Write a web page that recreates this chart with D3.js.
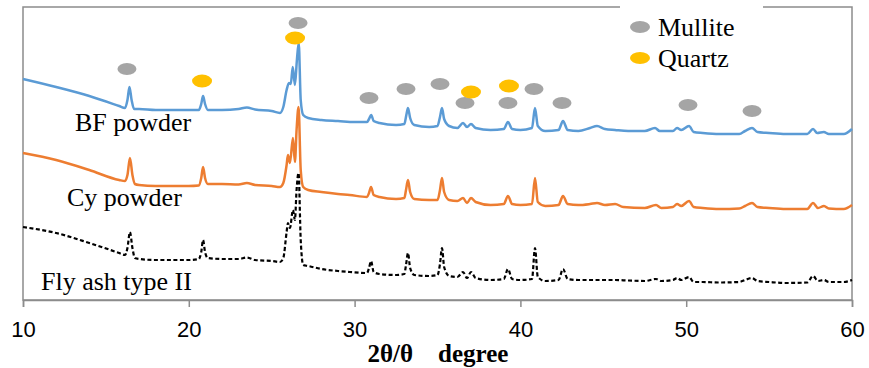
<!DOCTYPE html>
<html>
<head>
<meta charset="utf-8">
<script src="https://cdn.jsdelivr.net/npm/d3@7/dist/d3.min.js"></script>
<style>
  html, body { margin: 0; padding: 0; background: #fff; }
  svg { display: block; }
</style>
</head>
<body>
<div id="chart"></div>
<script>
// 2theta (degree) and intensity (a.u.)
const bfPowder = [
  [10, 2210], [12, 2130], [14, 2040], [15.8, 1940], [16.15, 1920], [16.3, 2000], [16.42, 2130], [16.55, 2000], [16.7, 1910],
  [17, 1910], [18, 1900], [19, 1900], [20, 1900], [20.6, 1900], [20.75, 1960], [20.86, 2040], [20.98, 1960], [21.15, 1900],
  [22, 1900], [23, 1910], [23.5, 1925], [24, 1905], [25, 1890], [25.5, 1870], [25.7, 1930], [25.9, 2100], [26.04, 2170],
  [26.15, 2160], [26.27, 2330], [26.4, 2150], [26.52, 2400], [26.63, 2570], [26.75, 2000], [26.9, 1850], [27.2, 1820],
  [28, 1800], [29, 1790], [30, 1780], [30.75, 1780], [30.87, 1810], [31, 1850], [31.15, 1790], [31.5, 1770], [32.5, 1750],
  [33.0, 1760], [33.12, 1850], [33.22, 1920], [33.35, 1820], [33.6, 1750], [34.5, 1730], [35.0, 1740], [35.15, 1830],
  [35.27, 1920], [35.4, 1810], [35.7, 1740], [36.2, 1720], [36.54, 1770], [36.78, 1730], [37.02, 1760], [37.3, 1720],
  [38.2, 1700], [39.0, 1710], [39.25, 1780], [39.5, 1710], [40.0, 1700], [40.7, 1720], [40.88, 1920], [41.05, 1740],
  [41.5, 1690], [42.3, 1700], [42.57, 1790], [42.85, 1700], [43.5, 1690], [44.2, 1720], [44.62, 1740], [45.1, 1710],
  [45.7, 1700], [46.5, 1690], [47.5, 1690], [48.12, 1720], [48.4, 1690], [49.2, 1690], [49.45, 1720], [49.7, 1700],
  [50.17, 1740], [50.45, 1680], [51, 1670], [52, 1660], [53.2, 1660], [53.55, 1690], [53.97, 1720], [54.3, 1680],
  [55, 1670], [56, 1660], [57.3, 1660], [57.65, 1710], [57.9, 1670], [58.3, 1680], [58.6, 1660], [59.5, 1660], [60, 1710]
];

const cyPowder = [
  [10, 1470], [12, 1400], [14, 1300], [15.8, 1200], [16.15, 1190], [16.3, 1250], [16.45, 1420], [16.6, 1250], [16.75, 1160],
  [17, 1150], [18, 1140], [19, 1140], [20, 1140], [20.6, 1145], [20.75, 1220], [20.86, 1330], [20.98, 1220], [21.15, 1160],
  [22, 1160], [23, 1155], [23.5, 1170], [24, 1150], [25, 1140], [25.5, 1130], [25.7, 1170], [25.9, 1350], [25.98, 1450],
  [26.1, 1370], [26.28, 1620], [26.4, 1380], [26.5, 1700], [26.62, 1930], [26.75, 1300], [26.9, 1130], [27.2, 1100],
  [28, 1080], [29, 1060], [29.7, 1050], [30.75, 1030], [30.87, 1070], [30.99, 1130], [31.15, 1050], [31.5, 1030],
  [32.5, 1010], [33.0, 1020], [33.1, 1100], [33.22, 1200], [33.35, 1080], [33.6, 1010], [34.5, 1000], [35.0, 1000],
  [35.15, 1100], [35.27, 1220], [35.4, 1080], [35.7, 1000], [36.2, 990], [36.54, 1020], [36.78, 970], [37.02, 1020],
  [37.3, 980], [38.2, 950], [39.0, 960], [39.25, 1040], [39.5, 960], [40, 950], [40.7, 960], [40.88, 1220], [41.05, 980],
  [41.5, 940], [42.3, 950], [42.57, 1040], [42.85, 960], [43.5, 950], [44.2, 960], [44.62, 970], [45.1, 950],
  [45.71, 960], [46.2, 930], [47.5, 920], [48.18, 950], [48.5, 920], [49.2, 930], [49.45, 960], [49.7, 940],
  [50.17, 990], [50.45, 930], [51, 920], [52, 910], [53.2, 915], [53.55, 940], [53.97, 970], [54.3, 930], [55, 920],
  [56, 910], [57.3, 910], [57.65, 970], [57.95, 920], [58.31, 940], [58.6, 915], [59.5, 910], [60, 950]
];

const flyAsh = [
  [10, 730], [12, 670], [14, 570], [15.8, 470], [16.15, 450], [16.3, 520], [16.45, 680], [16.6, 520], [16.75, 420],
  [17, 410], [18, 400], [19, 400], [20, 400], [20.6, 410], [20.75, 480], [20.86, 600], [20.98, 480], [21.15, 420],
  [22, 410], [23, 410], [23.5, 425], [24, 400], [25, 390], [25.5, 380], [25.7, 420], [25.9, 680], [25.98, 770],
  [26.1, 720], [26.28, 900], [26.4, 800], [26.5, 1100], [26.62, 1270], [26.75, 600], [26.9, 350], [27.2, 340],
  [28, 310], [29, 290], [29.7, 280], [30.75, 270], [30.87, 320], [30.99, 390], [31.15, 280], [31.5, 260], [32.5, 250],
  [33.0, 260], [33.1, 350], [33.22, 470], [33.35, 320], [33.6, 250], [34.5, 240], [35.0, 250], [35.15, 360],
  [35.27, 520], [35.4, 330], [35.7, 240], [36.2, 230], [36.54, 280], [36.78, 220], [37.02, 280], [37.3, 220],
  [38.2, 200], [39.0, 210], [39.25, 310], [39.5, 210], [40, 200], [40.7, 210], [40.88, 520], [41.05, 230], [41.5, 190],
  [42.3, 200], [42.57, 310], [42.85, 210], [43.5, 200], [44.62, 200], [45.71, 200], [46.5, 195], [47.5, 190],
  [48.18, 210], [48.5, 190], [49.2, 200], [49.45, 220], [49.7, 200], [50.17, 230], [50.45, 180], [51, 180], [52, 175],
  [53.2, 180], [53.55, 200], [53.97, 220], [54.3, 190], [55, 180], [56, 170], [57.3, 175], [57.65, 240], [57.95, 190],
  [58.31, 200], [58.6, 180], [59.5, 180], [60, 200]
];

// phase markers: [2theta, height]
const mulliteMarks = [
  [16.27, 2310], [26.59, 2770], [30.87, 2020], [33.1, 2110], [35.15, 2160], [36.66, 1970],
  [39.25, 1970], [40.82, 2110], [42.51, 1970], [50.11, 1950], [53.97, 1890]
];
const quartzMarks = [[20.8, 2190], [26.41, 2620], [37.02, 2080], [39.31, 2140]];

const xTicks = [10, 20, 30, 40, 50, 60];
const seriesNames = ['BF powder', 'Cy powder', 'Fly ash type II'];
const legendNames = ['Mullite', 'Quartz'];

const width = 869;
const height = 368;
const margin = {left: 23, right: 17, top: 7, bottom: 68};

const svg = d3.select('#chart').append('svg')
  .attr('width', width)
  .attr('height', height);

const x = d3.scaleLinear().domain([10, 60]).range([margin.left, width - margin.right]);
const y = d3.scaleLinear().domain([0, 2930]).range([height - margin.bottom, margin.top]);

const frameColor = '#8c8c8c';

// plot frame
svg.append('rect')
  .attr('x', x(10))
  .attr('y', y(2930))
  .attr('width', x(60) - x(10))
  .attr('height', y(0) - y(2930))
  .attr('fill', 'none')
  .attr('stroke', frameColor)
  .attr('stroke-width', 1.5);

// x axis
const xAxis = svg.append('g')
  .attr('transform', `translate(0,${y(0)})`)
  .call(d3.axisBottom(x).tickValues(xTicks).tickSize(7).tickPadding(14).tickFormat(d3.format('d')));
xAxis.select('.domain').attr('stroke', frameColor).attr('stroke-width', 1.5);
xAxis.selectAll('.tick line').attr('stroke', frameColor).attr('stroke-width', 1.5);
xAxis.selectAll('.tick text')
  .attr('fill', '#000')
  .style('font-family', 'Liberation Sans, Arial, sans-serif')
  .style('font-size', '22px');

svg.append('text')
  .attr('x', 438)
  .attr('y', 362)
  .attr('text-anchor', 'middle')
  .style('white-space', 'pre')
  .style('font-family', 'Liberation Serif, Times New Roman, serif')
  .style('font-weight', 'bold')
  .style('font-size', '25px')
  .text('2θ/θ    degree');

const line = d3.line()
  .curve(d3.curveMonotoneX)
  .x((d) => x(d[0]))
  .y((d) => y(d[1]));

svg.append('path')
  .datum(bfPowder)
  .attr('d', line)
  .attr('fill', 'none')
  .attr('stroke', '#5B9BD5')
  .attr('stroke-width', 2.5)
  .attr('stroke-linejoin', 'round');

svg.append('path')
  .datum(cyPowder)
  .attr('d', line)
  .attr('fill', 'none')
  .attr('stroke', '#ED7D31')
  .attr('stroke-width', 2.5)
  .attr('stroke-linejoin', 'round');

svg.append('path')
  .datum(flyAsh)
  .attr('d', line)
  .attr('fill', 'none')
  .attr('stroke', '#000')
  .attr('stroke-width', 2.2)
  .attr('stroke-dasharray', '4,2.5');

// sample labels
const labelFont = 'Liberation Serif, Times New Roman, serif';
const labelPos = [[75, 131], [67, 206], [41, 290]];
svg.selectAll('.sample-label')
  .data(seriesNames)
  .enter()
  .append('text')
  .attr('class', 'sample-label')
  .attr('x', (d, i) => labelPos[i][0])
  .attr('y', (d, i) => labelPos[i][1])
  .style('font-family', labelFont)
  .style('font-size', '26px')
  .text((d) => d);

// phase markers
svg.selectAll('.mullite')
  .data(mulliteMarks)
  .enter()
  .append('ellipse')
  .attr('class', 'mullite')
  .attr('cx', (d) => x(d[0]))
  .attr('cy', (d) => y(d[1]))
  .attr('rx', 9.5)
  .attr('ry', 6)
  .attr('fill', '#A5A5A5');

svg.selectAll('.quartz')
  .data(quartzMarks)
  .enter()
  .append('ellipse')
  .attr('class', 'quartz')
  .attr('cx', (d) => x(d[0]))
  .attr('cy', (d) => y(d[1]))
  .attr('rx', 10)
  .attr('ry', 6.5)
  .attr('fill', '#FFC000');

// legend
const legend = svg.append('g');
legend.append('rect')
  .attr('x', 620)
  .attr('y', 0)
  .attr('width', 143)
  .attr('height', 76)
  .attr('fill', '#fff');

legend.selectAll('ellipse')
  .data(legendNames)
  .enter()
  .append('ellipse')
  .attr('cx', 640)
  .attr('cy', (d, i) => 27 + i * 31)
  .attr('rx', 10)
  .attr('ry', 6)
  .attr('fill', (d, i) => i === 0 ? '#A5A5A5' : '#FFC000');

legend.selectAll('text')
  .data(legendNames)
  .enter()
  .append('text')
  .attr('x', 658)
  .attr('y', (d, i) => 36 + i * 31)
  .style('font-family', labelFont)
  .style('font-size', '26px')
  .text((d) => d);
</script>
</body>
</html>
